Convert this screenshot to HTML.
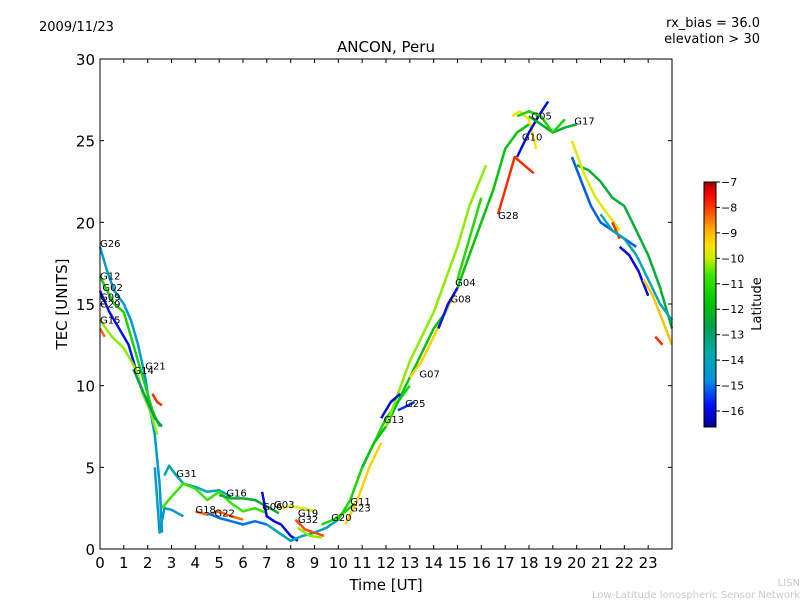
<!DOCTYPE html>
<html><head><meta charset="utf-8"><style>
body{margin:0;background:#fff;}
svg text{font-family:"DejaVu Sans","Liberation Sans",sans-serif;}
</style></head><body>
<svg id="chart" width="800" height="600" xmlns="http://www.w3.org/2000/svg">
<defs>
<linearGradient id="jet" x1="0" y1="1" x2="0" y2="0">
<stop offset="0" stop-color="#00008f"/>
<stop offset="0.09" stop-color="#0010ff"/>
<stop offset="0.19" stop-color="#0090e0"/>
<stop offset="0.3" stop-color="#00aaaa"/>
<stop offset="0.41" stop-color="#00a050"/>
<stop offset="0.51" stop-color="#00c800"/>
<stop offset="0.62" stop-color="#3ce600"/>
<stop offset="0.69" stop-color="#c8f000"/>
<stop offset="0.74" stop-color="#ffe000"/>
<stop offset="0.8" stop-color="#ffb400"/>
<stop offset="0.9" stop-color="#ff3200"/>
<stop offset="0.96" stop-color="#f00000"/>
<stop offset="1" stop-color="#900000"/>
</linearGradient>
</defs>
<text x="39" y="31" font-size="13">2009/11/23</text>
<text x="760" y="27" font-size="13" text-anchor="end">rx_bias = 36.0</text>
<text x="760" y="43" font-size="13" text-anchor="end">elevation &gt; 30</text>
<text x="386" y="52" font-size="15" text-anchor="middle">ANCON, Peru</text>
<text transform="translate(67,304) rotate(-90)" font-size="15" text-anchor="middle">TEC [UNITS]</text>
<text x="386" y="590" font-size="15" text-anchor="middle">Time [UT]</text>
<g id="marks"></g>
<rect x="100" y="59" width="572" height="490" fill="none" stroke="#000" stroke-width="1"/>
<g id="axes"></g>
<rect x="704" y="182" width="12" height="245" fill="url(#jet)" stroke="#000" stroke-width="1"/>
<g id="cbticks"></g>
<text transform="translate(761,304) rotate(-90)" font-size="13" text-anchor="middle">Latitude</text>
<text x="800" y="586" font-size="10" fill="#c8c8c8" text-anchor="end">LISN</text>
<text x="800" y="598" font-size="10" fill="#c8c8c8" text-anchor="end">Low-Latitude Ionospheric Sensor Network</text>
</svg>
<script>
const xTicks=[0,1,2,3,4,5,6,7,8,9,10,11,12,13,14,15,16,17,18,19,20,21,22,23];
const yTicks=[0,5,10,15,20,25,30];
const cbTicks=[-7,-8,-9,-10,-11,-12,-13,-14,-15,-16];
const trackLat=[-14.5,-11.5,-15.8,-8.5,-10.5,-12.8,-8,-14,-14.5,-11,-8.5,-15,-12.5,-16,-10,-14,-8.3,-10.5,-11.5,-11.5,-9.5,-12,-10.5,-16,-15.5,-9.5,-15.8,-11.3,-8,-9.8,-16,-12.5,-11.5,-15.2,-12.5,-10,-8,-16,-14,-9.3,-8];
const trackTimes=[
[0,0.3,0.6,1,1.3,1.6,1.9,2.1,2.3,2.5,2.6],
[0,0.3,0.6,1,1.3,1.6,1.9,2.2,2.5],
[0,0.4,0.8,1.2,1.5,1.8,2.1],
[0,0.2],
[0,0.5,1,1.5,1.8,2.1,2.4],
[1.4,1.7,2,2.3,2.6],
[2.2,2.4,2.6],
[2.7,2.9,3.2,3.5,4,4.5,5,5.5],
[2.3,2.5,2.7,3,3.5],
[2.6,3,3.5,4,4.5,5,5.5,6,6.5,7],
[4,4.5,5,5.5,6],
[4.5,5,5.5,6,6.5,7],
[5,5.5,6,6.5,7,7.5],
[6.8,7,7.3,7.6,8,8.3],
[7.5,8,8.5,9],
[7,7.5,8,8.5,9,9.5,10],
[8.2,8.6,9,9.4],
[8.3,8.8,9.3],
[9.3,9.8,10.3,10.7],
[10,10.5,11,11.5,12,12.5,13],
[10.3,10.8,11.3,11.8],
[11,11.5,12,12.5,13,13.5,14,14.5,15,15.5,16,16.5,17,17.5,18],
[12,12.5,13,13.5,14,14.5,15,15.5,16.2],
[11.8,12.2,12.6],
[12.5,12.8,13.2],
[13,13.5,14,14.5,15],
[14.2,14.6,15],
[15,15.5,16],
[16.7,17,17.4,17.8,18.2],
[17.3,17.6,18,18.3],
[17.5,18,18.4,18.8],
[18,18.5,19,19.5,20],
[17.5,18,18.5,19,19.5],
[19.8,20.2,20.6,21,21.5,22,22.5],
[20,20.5,21,21.5,22,22.5,23,23.5,24],
[19.8,20.3,20.8,21.3,21.8],
[21.5,21.8],
[21.8,22.2,22.6,23],
[21,21.5,22,22.5,23,23.5,24],
[22.8,23.2,23.6,24],
[23.3,23.6]];
const trackTec=[
[18.5,17,15.8,15,14,12.5,10.5,8.5,7,4,1],
[16.7,15.8,15,14.5,13,11.5,10,8.5,7.5],
[15.8,14.5,13.5,12.5,11,9.5,8.5],
[13.5,13],
[14,13,12.3,11,9.5,8.5,7],
[11,10,9,8,7.5],
[9.5,9,8.8],
[4.5,5.1,4.5,4,3.8,3.5,3.6,3.2],
[5,1,2.5,2.4,2],
[2.5,3.2,4,3.7,3,3.5,2.8,2.3,2.5,2.2],
[2.3,2.1,2.3,2,1.8],
[2.2,1.9,1.7,1.5,1.7,1.5],
[3.3,3.1,3.1,3,2.6,2.2],
[3.5,2,1.7,1.5,0.8,0.5],
[2.5,2.6,2.5,2.3],
[1.5,1,0.5,0.8,1,1.3,1.8],
[1.8,1.2,1,0.8],
[1.3,0.8,0.7],
[1.5,1.8,2.3,2.8],
[1.8,3,5,6.5,8,9,10],
[1.5,3,5,6.5],
[5,6.5,7.5,9,10.5,12,13.5,14.5,16,18,20,22,24.5,25.5,26],
[7.5,9.5,11.5,13,14.5,16.5,18.5,21,23.5],
[8,9,9.5],
[8.5,8.7,9],
[10.5,11.5,13,14.5,16],
[13.5,15,16],
[16.5,19,21.5],
[20.5,22,24,23.5,23],
[26.5,26.8,26.3,24.5],
[24,25.5,26.5,27.4],
[26.5,26,25.5,25.8,26],
[26.5,26.8,26.5,25.5,26.3],
[24,22.5,21,20,19.5,19,18.5],
[23.5,23.2,22.5,21.5,21,19.5,18,16,13.5],
[25,23,21.5,20.5,19.5],
[20,19],
[18.5,18,17,15.5],
[20.5,19.5,19,18,16.5,15,14],
[16.5,15.5,14,12.5],
[13,12.5]];
const labelNames=["G26","G12","G02","G09","G29","G15","G14","G21","G31","G18","G22","G16","G06","G03","G19","G32","G20","G11","G23","G13","G25","G07","G08","G04","G28","G10","G05","G17"];
const labelTimes=[0,0,0.1,0,0,0,1.4,1.9,3.2,4,4.8,5.3,6.8,7.3,8.3,8.3,9.7,10.5,10.5,11.9,12.8,13.4,14.7,14.9,16.7,17.7,18.1,19.9];
const labelTec=[18.5,16.5,15.8,15.2,14.8,13.8,10.7,11,4.4,2.2,2,3.2,2.4,2.5,2,1.6,1.7,2.7,2.3,7.7,8.7,10.5,15.1,16.1,20.2,25,26.3,26];

const X0=100,X1=672,Y0=549,Y1=59;
const xs=t=>X0+t/24*(X1-X0);
const ys=v=>Y0-v/30*(Y0-Y1);
const cbY=l=>182+(-7-l)/9.63*245;
const NS="http://www.w3.org/2000/svg";
function mk(tag,attrs,parent){const e=document.createElementNS(NS,tag);for(const k in attrs)e.setAttribute(k,attrs[k]);parent.appendChild(e);return e;}
const stops=[[-16.6,[0,0,143]],[-15.8,[0,16,255]],[-14.8,[0,144,224]],[-13.8,[0,170,170]],[-12.8,[0,160,80]],[-11.9,[0,200,0]],[-10.9,[60,230,0]],[-10.2,[200,240,0]],[-9.7,[255,224,0]],[-9.1,[255,180,0]],[-8.1,[255,50,0]],[-7.4,[240,0,0]],[-6.9,[144,0,0]]];
function col(l){for(let i=0;i<stops.length-1;i++){const a=stops[i],b=stops[i+1];if(l<=b[0]){const f=Math.max(0,(l-a[0])/(b[0]-a[0]));return 'rgb('+a[1].map((c,j)=>Math.round(c+(b[1][j]-c)*f)).join(',')+')';}}return 'rgb(144,0,0)';}
const marks=document.getElementById('marks');
trackTimes.forEach((ts,i)=>{
  const pts=ts.map((t,j)=>xs(t).toFixed(1)+','+ys(trackTec[i][j]).toFixed(1)).join(' ');
  const p=mk('polyline',{points:pts,fill:'none',stroke:col(trackLat[i]),'stroke-width':2.5,'stroke-linejoin':'round'},marks);
  
  
});
labelNames.forEach((n,i)=>{
  const t=mk('text',{x:xs(labelTimes[i]),y:ys(labelTec[i]),'font-size':10},marks);
  t.textContent=n;
  
  
});
const axes=document.getElementById('axes');
xTicks.forEach(v=>{
  const x=xs(v);
  mk('line',{x1:x,x2:x,y1:Y0,y2:Y0-4,stroke:'#000'},axes);
  mk('line',{x1:x,x2:x,y1:Y1,y2:Y1+4,stroke:'#000'},axes);
  const t=mk('text',{x:x,y:568,'font-size':15,'text-anchor':'middle'},axes);
  t.textContent=v;
  
  
});
yTicks.forEach(v=>{
  const y=ys(v);
  mk('line',{x1:X0,x2:X0+4,y1:y,y2:y,stroke:'#000'},axes);
  mk('line',{x1:X1,x2:X1-4,y1:y,y2:y,stroke:'#000'},axes);
  const t=mk('text',{x:95,y:y+6,'font-size':15,'text-anchor':'end'},axes);
  t.textContent=v;
  
  
});
const cb=document.getElementById('cbticks');
cbTicks.forEach(v=>{
  const y=cbY(v);
  mk('line',{x1:716,x2:720,y1:y,y2:y,stroke:'#000'},cb);
  const t=mk('text',{x:721,y:y+4,'font-size':11},cb);
  t.textContent='\u2212'+Math.abs(v);
  
  
});
</script>
</body></html>
